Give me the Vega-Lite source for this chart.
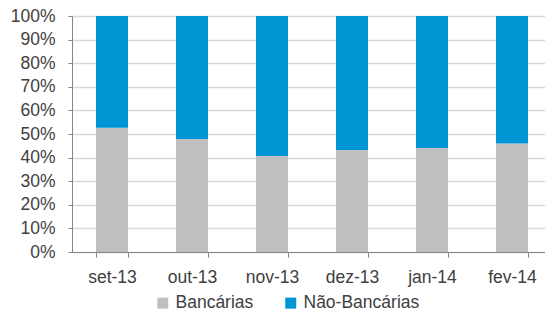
{
  "$schema": "https://vega.github.io/schema/vega-lite/v6.json",
  "autosize": "none",
  "width": 473,
  "height": 236,
  "padding": {"left": 72, "top": 16, "right": 0, "bottom": 59},
  "background": "white",
  "config": {
    "view": {"stroke": null},
    "font": "Liberation Sans",
    "axis": {"labelFont": "Liberation Sans", "labelFontSize": 17.5, "labelColor": "#404040"}
  },
  "data": {
    "values": [
      {"mes": "set-13", "serie": "Bancárias", "ord": 1, "valor": 52.6},
      {"mes": "set-13", "serie": "Não-Bancárias", "ord": 2, "valor": 47.4},
      {"mes": "out-13", "serie": "Bancárias", "ord": 1, "valor": 47.9},
      {"mes": "out-13", "serie": "Não-Bancárias", "ord": 2, "valor": 52.1},
      {"mes": "nov-13", "serie": "Bancárias", "ord": 1, "valor": 40.7},
      {"mes": "nov-13", "serie": "Não-Bancárias", "ord": 2, "valor": 59.3},
      {"mes": "dez-13", "serie": "Bancárias", "ord": 1, "valor": 43.2},
      {"mes": "dez-13", "serie": "Não-Bancárias", "ord": 2, "valor": 56.8},
      {"mes": "jan-14", "serie": "Bancárias", "ord": 1, "valor": 44.1},
      {"mes": "jan-14", "serie": "Não-Bancárias", "ord": 2, "valor": 55.9},
      {"mes": "fev-14", "serie": "Bancárias", "ord": 1, "valor": 46.0},
      {"mes": "fev-14", "serie": "Não-Bancárias", "ord": 2, "valor": 54.0}
    ]
  },
  "mark": {"type": "bar"},
  "encoding": {
    "x": {
      "field": "mes",
      "type": "nominal",
      "sort": null,
      "scale": {"range": [0, 480], "paddingInner": 0.6, "paddingOuter": 0.3},
      "axis": {
        "title": null,
        "labelAngle": 0,
        "domainColor": "#868686",
        "tickColor": "#868686",
        "tickSize": 5,
        "tickBand": "extent",
        "labelPadding": 11,
        "grid": false
      }
    },
    "y": {
      "field": "valor",
      "type": "quantitative",
      "stack": "normalize",
      "scale": {"domain": [0, 1]},
      "axis": {
        "title": null,
        "format": ".0%",
        "values": [0, 0.1, 0.2, 0.3, 0.4, 0.5, 0.6, 0.7, 0.8, 0.9, 1],
        "domainColor": "#868686",
        "tickColor": "#868686",
        "tickSize": 4,
        "labelPadding": 13,
        "gridColor": "#D9D9D9",
        "gridWidth": 1.5
      }
    },
    "color": {
      "field": "serie",
      "type": "nominal",
      "scale": {"domain": ["Bancárias", "Não-Bancárias"], "range": ["#BFBFBF", "#0096D6"]},
      "legend": {
        "title": null,
        "orient": "none",
        "direction": "horizontal",
        "legendX": 82,
        "legendY": 278,
        "symbolType": "square",
        "symbolSize": 121,
        "symbolStrokeWidth": 0,
        "labelFont": "Liberation Sans",
        "labelFontSize": 17.5,
        "labelColor": "#404040",
        "labelOffset": 4,
        "columnPadding": 28,
        "padding": 0
      }
    },
    "order": {"field": "ord", "type": "quantitative"}
  }
}
